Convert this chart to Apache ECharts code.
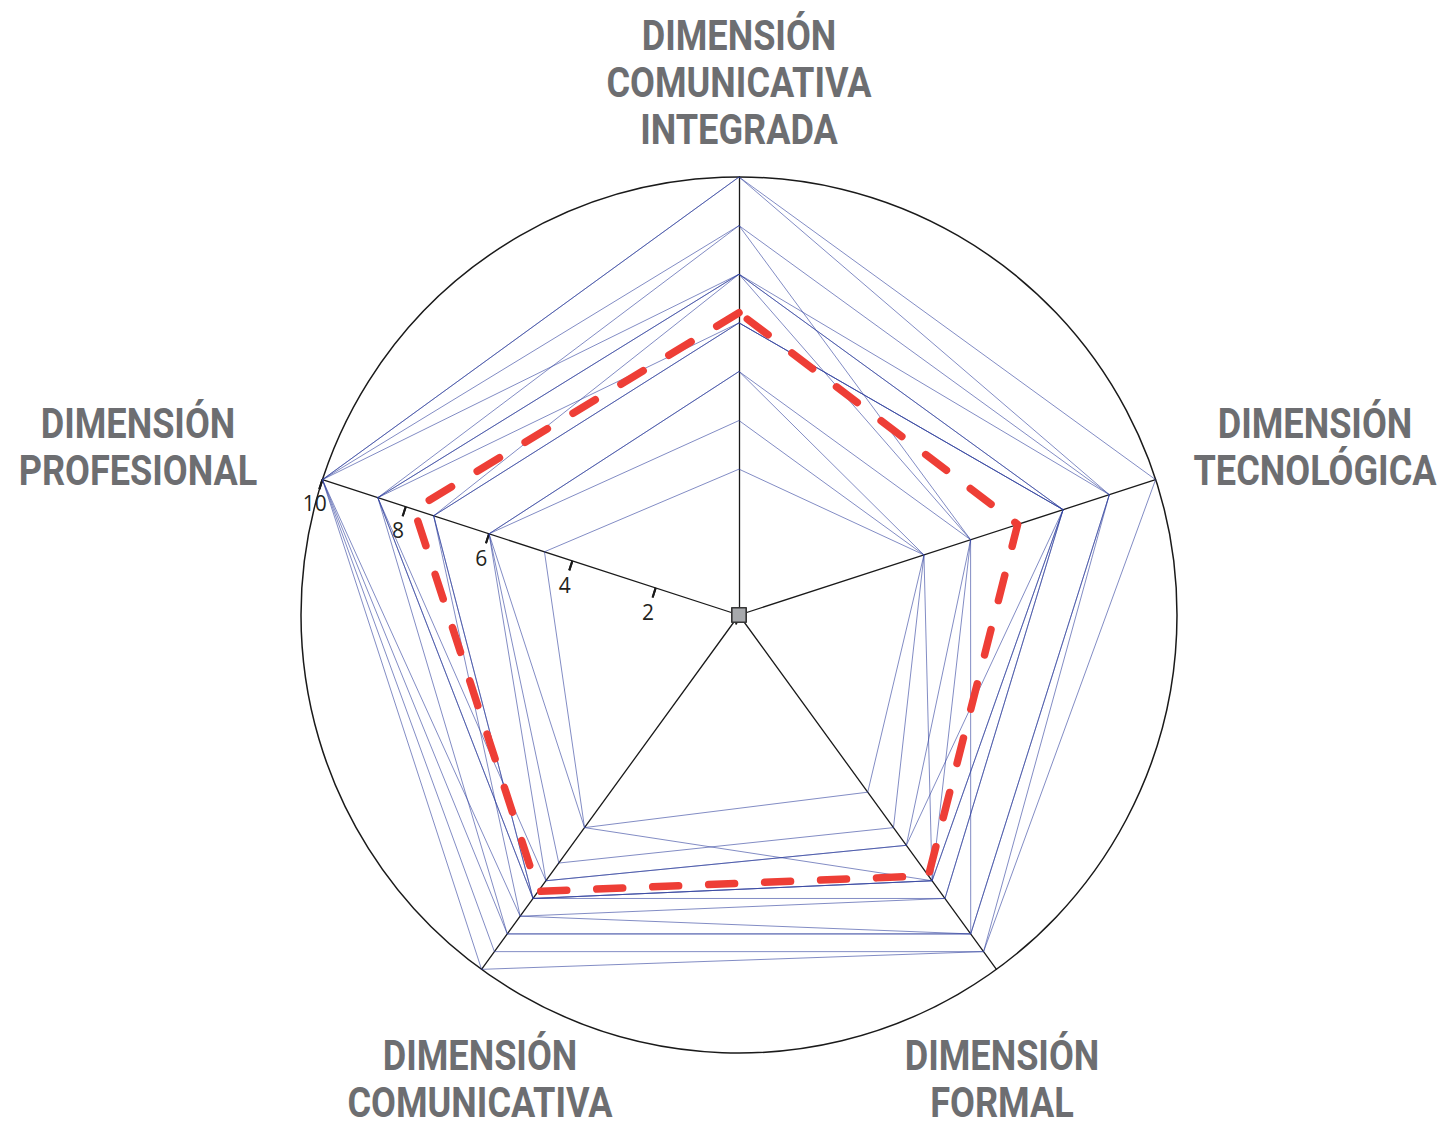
<!DOCTYPE html>
<html>
<head>
<meta charset="utf-8">
<script src="https://cdn.jsdelivr.net/npm/echarts/dist/echarts.min.js"></script>
<style>
html,body{margin:0;padding:0;background:#fff;}
#chart{width:1450px;height:1128px;}
</style>
</head>
<body>
<div id="chart"></div>
<script>
// Indicator order (ECharts radar runs counter-clockwise from the top)
const dimensions = [
  'DIMENSIÓN\nCOMUNICATIVA\nINTEGRADA',
  'DIMENSIÓN\nPROFESIONAL',
  'DIMENSIÓN\nCOMUNICATIVA',
  'DIMENSIÓN\nFORMAL',
  'DIMENSIÓN\nTECNOLÓGICA'
];
const axisMax = 10;
const axisTicks = [0, 2, 4, 6, 8, 10];

// Individual profiles [integrada, profesional, comunicativa, formal, tecnológica]
const p01 = [10, 10, 10, 9.5, 10];
const p02 = [10, 10, 9.5, 9.5, 8.89];
const p03 = [8.89, 10, 9.0, 9.0, 8.89];
const p04 = [7.78, 10, 8.5, 8.0, 7.78];
const p05 = [7.78, 8.67, 8.0, 7.5, 7.78];
const p06 = [6.67, 7.33, 8.0, 7.5, 7.78];
const p07 = [6.67, 7.33, 8.0, 8.0, 7.78];
const p08 = [3.33, 4.67, 6.0, 5.0, 4.44];
const p09 = [4.44, 6.0, 7.0, 6.0, 4.44];
const p10 = [5.56, 6.0, 7.5, 6.5, 5.56];
const p11 = [5.56, 6.0, 6.0, 7.5, 4.44];
const p12 = [7.78, 7.33, 8.5, 9.0, 5.56];
const p13 = [8.89, 8.67, 8.0, 7.5, 5.56];
const p14 = [6.67, 8.67, 7.5, 6.5, 7.78];
const p15 = [7.78, 8.67, 9.0, 9.0, 8.89];
const profiles = [p01, p02, p03, p04, p05, p06, p07, p08, p09, p10, p11, p12, p13, p14, p15];

// Mean profile (red dashed)
const meanProfile = [6.9, 7.8, 7.8, 7.36, 6.69];
// Origin marker
const originPoint = [0, 0, 0, 0, 0];

const chart = echarts.init(document.getElementById('chart'), null, {renderer: 'svg'});

const CX = 739, CY = 615, R = 438;
const LABEL_AXIS = 1;
const LABEL_AXIS_ANGLE = 90 + 72 * LABEL_AXIS; // degrees, counter-clockwise

const indicatorList = dimensions.map((n, i) => {
  const o = {name: n, min: 0, max: axisMax};
  if (i === LABEL_AXIS) {
    o.axisTick = {show: true};
    o.axisLabel = {show: true};
  }
  return o;
});

const ringColors = axisTicks.map((t, i) => i === axisTicks.length - 1 ? '#1a1a1a' : 'rgba(0,0,0,0)');

const nameFont = {fontFamily: 'Roboto', fontWeight: 'bold', fontSize: 42, lineHeight: 34, fill: '#6d6e71'};
const namePlaces = [
  {x: 739, y: 83},
  {x: 138, y: 448},
  {x: 480, y: 1080},
  {x: 1002, y: 1080},
  {x: 1315, y: 448}
];
const NAME_STEP = 47;

const nameTexts = [];
dimensions.forEach((n, i) => {
  const lines = n.split('\n');
  lines.forEach((ln, k) => {
    nameTexts.push({
      type: 'text',
      x: namePlaces[i].x,
      y: namePlaces[i].y + (k - (lines.length - 1) / 2) * NAME_STEP,
      scaleX: 0.86,
      silent: true,
      style: Object.assign({text: ln, align: 'center', verticalAlign: 'middle'}, nameFont)
    });
  });
});

const tickStyle = {color: '#1a1a1a', width: 2};

const option = {
  backgroundColor: '#ffffff',
  animation: false,
  radar: {
    center: [CX, CY],
    radius: R,
    startAngle: 90,
    splitNumber: axisTicks.length - 1,
    shape: 'circle',
    indicator: indicatorList,
    axisName: {show: false},
    axisLine: {show: true, lineStyle: {color: '#1a1a1a', width: 1.3}},
    axisTick: {show: false, length: 10, lineStyle: tickStyle},
    axisLabel: {show: false, margin: 25, align: 'center', verticalAlign: 'middle', fontSize: 21, color: '#231f20', fontFamily: 'Open Sans', showMinLabel: false},
    splitLine: {show: true, lineStyle: {color: ringColors, width: 1.5}},
    splitArea: {show: false}
  },
  // second copy of the labelled axis, only to draw the tick halves on the other side
  polar: {center: [CX, CY], radius: R},
  angleAxis: {type: 'value', min: 0, max: 360, startAngle: LABEL_AXIS_ANGLE, show: false},
  radiusAxis: {
    type: 'value', min: 0, max: axisMax, interval: axisTicks[1] - axisTicks[0],
    axisLine: {show: false},
    axisLabel: {show: false},
    splitLine: {show: false},
    axisTick: {show: true, inside: false, length: 10, lineStyle: tickStyle}
  },
  series: [{
    type: 'radar',
    silent: true,
    symbol: 'none',
    z: 2,
    lineStyle: {color: '#2f409c', width: 1, opacity: 0.6},
    data: profiles.map((v, i) => ({name: 'P' + (i + 1), value: v}))
  }, {
    type: 'radar',
    silent: true,
    symbol: 'none',
    z: 3,
    lineStyle: {color: '#ee3e36', width: 7.5, type: [26, 30], cap: 'round', join: 'round', opacity: 1},
    data: [{name: 'Media', value: meanProfile}]
  }, {
    type: 'radar',
    silent: true,
    symbol: 'rect',
    symbolSize: 14,
    z: 4,
    itemStyle: {color: '#a7a9ac', borderColor: '#333333', borderWidth: 1.2},
    lineStyle: {width: 0, opacity: 0},
    data: [{name: 'origen', value: originPoint}]
  }],
  graphic: nameTexts
};

chart.setOption(option);
</script>
</body>
</html>
